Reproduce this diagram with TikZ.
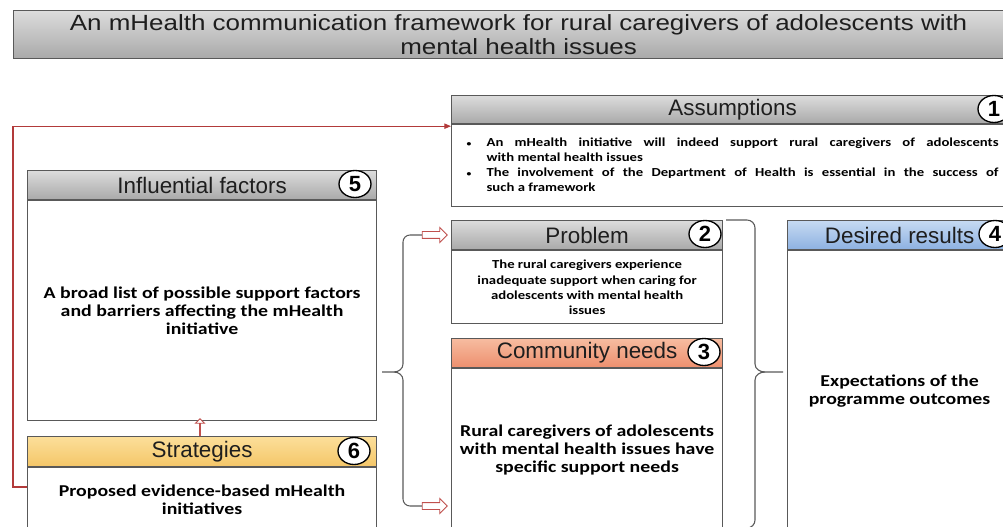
\documentclass[tikz,border=0pt]{standalone}
\usepackage{fontspec}
\setmainfont{Liberation Sans}
\newfontfamily\calfont[FakeStretch=1.2]{Carlito}
\newfontfamily\titlefont[FakeStretch=1.18]{Liberation Sans}
\usetikzlibrary{positioning, arrows.meta, shapes.geometric, shapes.arrows}
\definecolor{boxline}{HTML}{595959}
\definecolor{hdrtext}{HTML}{1E1E1E}
\definecolor{graytop}{HTML}{DCDCDC}
\definecolor{graybot}{HTML}{A9A9A9}
\definecolor{strattop}{HTML}{FCDF9A}
\definecolor{stratbot}{HTML}{F4C668}
\definecolor{commtop}{HTML}{F7BCA0}
\definecolor{commbot}{HTML}{ED8F6E}
\definecolor{destop}{HTML}{C6DAF2}
\definecolor{desbot}{HTML}{8DB1E1}
\definecolor{linered}{HTML}{B23A3A}
\definecolor{arrowred}{HTML}{C0504D}
\def\pxu{0.75pt}

\begin{document}
\begin{tikzpicture}[x=0.75pt, y=-0.75pt,
  hdr/.style={draw=boxline, line width=0.9pt, anchor=north west, minimum height=29*\pxu, inner sep=0pt, text=hdrtext, font=\fontsize{16.8}{18}\selectfont},
  bodybox/.style={draw=boxline, line width=0.9pt, fill=white, anchor=north west, inner sep=0pt, align=center, font=\calfont\bfseries\fontsize{12.4}{13.3}\selectfont},
  smalltext/.style={font=\calfont\bfseries\fontsize{9.2}{11.3}\selectfont},
  numc/.style={ellipse, draw=black, line width=1pt, fill=white, minimum width=32*\pxu, minimum height=27*\pxu, inner sep=0pt, font=\bfseries\fontsize{16.5}{16.5}\selectfont},
  hollow/.style={single arrow, draw=arrowred, fill=white, line width=0.7pt, inner xsep=0pt, inner ysep=3*\pxu, single arrow head extend=4*\pxu, single arrow head indent=0pt},
  bracel/.style={draw=boxline, line width=0.8pt},
  redline/.style={draw=linered, line width=0.8pt, -{Triangle[length=5pt,width=4pt]}}
]
\useasboundingbox (0,0) rectangle (1003,527);
\clip (0,0) rectangle (1003,527);

% title
\node[hdr, top color=graytop, bottom color=graybot, minimum width=1010*\pxu, minimum height=48*\pxu, align=center, font=\titlefont\fontsize{16.5}{18}\selectfont] (title) at (13,10) {An mHealth communication framework for rural caregivers of adolescents with\\mental health issues};

% assumptions
\node[hdr, top color=graytop, bottom color=graybot, minimum width=562*\pxu, minimum height=28*\pxu] (asmhead) at (451,95) {Assumptions};
\node[numc] (asmnum) at (994,109) {1};
\node[bodybox, smalltext, minimum width=562*\pxu, minimum height=82*\pxu] (asmbody) at (asmhead.south west) {%
  \begin{tabular}{@{}p{15pt}@{}p{384pt}@{}}
  {\fontsize{6}{6}\selectfont\textbullet} & An mHealth initiative will indeed support rural caregivers of adolescents\linebreak with mental health issues\\
  {\fontsize{6}{6}\selectfont\textbullet} & The involvement of the Department of Health is essential in the success of\linebreak such a framework
  \end{tabular}};

% influential factors
\node[hdr, top color=graytop, bottom color=graybot, minimum width=349*\pxu] (inflhead) at (27,170) {Influential factors};
\node[numc] (inflnum) at (355,184) {5};
\node[bodybox, minimum width=349*\pxu, minimum height=220*\pxu] (inflbody) at (inflhead.south west) {A broad list of possible support factors\\and barriers affecting the mHealth\\initiative};

% strategies
\node[hdr, top color=strattop, bottom color=stratbot, minimum width=349*\pxu, minimum height=30*\pxu] (strathead) at (27,436) {Strategies};
\node[numc] (stratnum) at (354,451) {6};
\node[bodybox, minimum width=349*\pxu, minimum height=64*\pxu] (stratbody) at (strathead.south west) {Proposed evidence-based mHealth\\initiatives};
\node[hollow, shape border rotate=90, minimum height=17*\pxu] (uparr) at (200,427.5) {};

% problem
\node[hdr, top color=graytop, bottom color=graybot, minimum width=271*\pxu] (probhead) at (451,220) {Problem};
\node[numc] (probnum) at (705,234) {2};
\node[bodybox, smalltext, minimum width=271*\pxu, minimum height=73*\pxu] (probbody) at (probhead.south west) {The rural caregivers experience\\inadequate support when caring for\\adolescents with mental health\\issues};

% community needs
\node[hdr, top color=commtop, bottom color=commbot, minimum width=271*\pxu] (commhead) at (451,338) {Community needs};
\node[numc] (commnum) at (704,352) {3};
\node[bodybox, minimum width=271*\pxu, minimum height=162*\pxu] (commbody) at (commhead.south west) {Rural caregivers of adolescents\\with mental health issues have\\specific support needs};

% desired results
\node[hdr, top color=destop, bottom color=desbot, minimum width=224*\pxu] (deshead) at (787,220) {Desired results};
\node[numc] (desnum) at (995,234) {4};
\node[bodybox, minimum width=224*\pxu, minimum height=280*\pxu] (desbody) at (deshead.south west) {Expectations of the\\programme outcomes};

% braces
\node[hollow, minimum height=25*\pxu] (arrprob) at (433,235) {};
\node[hollow, minimum height=25*\pxu] (arrcomm) at (433,506) {};
\coordinate (lbtip) at (382,372);
\draw[bracel] (arrprob.west) -- (410,235) to[out=180,in=90] (403,242) -- (403,364) to[out=-90,in=0] (394,372) -- (lbtip);
\draw[bracel] (arrcomm.west) -- (410,506) to[out=180,in=-90] (403,499) -- (403,380) to[out=90,in=0] (394,372);
\coordinate (rbtip) at (783,372);
\draw[bracel] (726,220) -- (747,220) to[out=0,in=90] (755,228) -- (755,364) to[out=-90,in=180] (765,372) -- (rbtip);
\draw[bracel] (726,528) -- (747,528) to[out=0,in=-90] (755,520) -- (755,380) to[out=90,in=180] (765,372);

% feedback line
\coordinate (rl) at (27,487);
\draw[redline] (rl) -- (13,487) |- ([yshift=-1.5pt]asmbody.north west);
\end{tikzpicture}
\end{document}
